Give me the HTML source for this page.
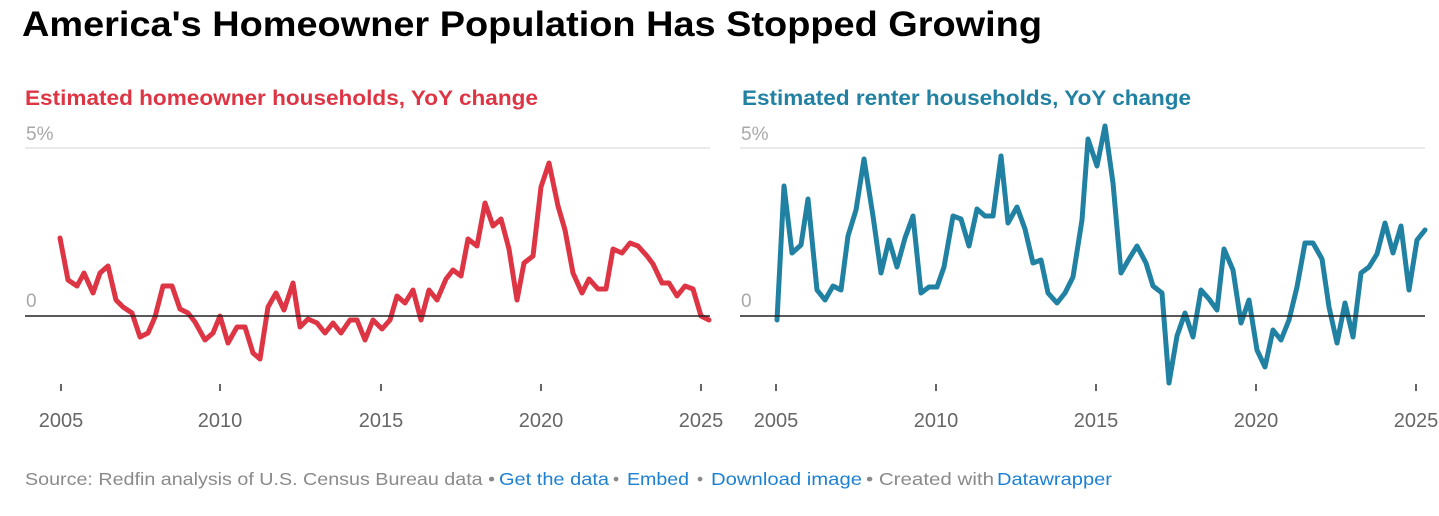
<!DOCTYPE html>
<html><head><meta charset="utf-8"><style>
html,body{margin:0;padding:0;background:#fff;}
svg{display:block;font-family:"Liberation Sans",sans-serif;}
</style></head><body>
<svg width="1439" height="516" viewBox="0 0 1439 516" xmlns="http://www.w3.org/2000/svg">
<text x="22" y="36" font-size="35" font-weight="bold" fill="#000" textLength="1020" lengthAdjust="spacingAndGlyphs">America's Homeowner Population Has Stopped Growing</text>
<text x="25" y="105" font-size="21" font-weight="bold" fill="#de3545" textLength="513" lengthAdjust="spacingAndGlyphs">Estimated homeowner households, YoY change</text>
<text x="742" y="105" font-size="21" font-weight="bold" fill="#2181a3" textLength="449" lengthAdjust="spacingAndGlyphs">Estimated renter households, YoY change</text>

<g font-size="19" fill="#a8a8a8">
<text x="26" y="140">5%</text><text x="26" y="307">0</text>
<text x="741" y="140">5%</text><text x="741" y="307">0</text>
</g>
<line x1="25" y1="148" x2="710" y2="148" stroke="#e2e2e2" stroke-width="1.5"/>
<line x1="740" y1="148" x2="1425" y2="148" stroke="#e2e2e2" stroke-width="1.5"/>

<g stroke="#333" stroke-width="1.5">
<line x1="61" y1="384" x2="61" y2="391"/><line x1="220" y1="384" x2="220" y2="391"/><line x1="381" y1="384" x2="381" y2="391"/><line x1="541" y1="384" x2="541" y2="391"/><line x1="701" y1="384" x2="701" y2="391"/>
<line x1="776" y1="384" x2="776" y2="391"/><line x1="936" y1="384" x2="936" y2="391"/><line x1="1096" y1="384" x2="1096" y2="391"/><line x1="1256" y1="384" x2="1256" y2="391"/><line x1="1416" y1="384" x2="1416" y2="391"/>
</g>
<g font-size="20" fill="#666" text-anchor="middle">
<text x="61" y="427">2005</text><text x="220" y="427">2010</text><text x="381" y="427">2015</text><text x="541" y="427">2020</text><text x="701" y="427">2025</text>
<text x="776" y="427">2005</text><text x="936" y="427">2010</text><text x="1096" y="427">2015</text><text x="1256" y="427">2020</text><text x="1416" y="427">2025</text>
</g>

<polyline fill="none" stroke="#de3545" stroke-width="5" stroke-linejoin="round" stroke-linecap="round" points="60,238 68,280 77,286 84,273 93,293 100,273 108,266 116,300 123,307 132,313 140,337 148,333 155,317 163,286 172,286 180,309 188,313 195,322 205,340 213,333 220,316 228,343 237,327 245,327 253,353 260,359 268,307 276,293 284,310 293,283 300,327 308,319 317,323 325,333 333,323 341,333 350,320 357,320 365,340 373,320 382,329 390,320 397,296 405,303 413,290 421,320 429,290 437,300 446,279 453,270 461,276 468,239 477,246 485,203 493,226 501,219 509,249 517,300 524,263 533,256 541,187 549,163 558,206 565,230 573,273 582,293 589,279 598,289 606,289 613,249 622,253 630,243 638,246 647,256 653,264 662,283 669,283 677,296 685,286 693,289 701,316 709,320"/>
<polyline fill="none" stroke="#2181a3" stroke-width="5" stroke-linejoin="round" stroke-linecap="round" points="777,320 784,186 792,253 801,245 808,199 817,290 825,300 833,286 841,290 848,236 856,210 864,159 873,216 881,273 889,240 897,267 905,238 913,216 921,293 929,287 937,287 944,267 953,216 961,219 969,246 977,209 985,216 993,216 1001,156 1008,223 1017,207 1025,229 1033,263 1041,260 1048,293 1057,303 1065,293 1073,277 1082,220 1088,139 1097,166 1105,126 1113,183 1121,273 1129,259 1137,246 1146,263 1153,286 1162,293 1169,383 1177,336 1185,313 1193,337 1201,290 1209,299 1217,310 1224,249 1233,270 1241,323 1249,300 1257,350 1265,367 1273,330 1281,340 1289,320 1297,287 1305,243 1313,243 1322,259 1329,307 1337,343 1345,303 1353,337 1361,273 1369,267 1377,254 1385,223 1393,253 1401,226 1409,290 1417,240 1425,230"/>
<line x1="25" y1="316" x2="710" y2="316" stroke="#222" stroke-width="1.5"/>
<line x1="740" y1="316" x2="1425" y2="316" stroke="#222" stroke-width="1.5"/>

<g font-size="17.5">
<text x="25" y="485" fill="#8a8a8a" textLength="470" lengthAdjust="spacingAndGlyphs">Source: Redfin analysis of U.S. Census Bureau data •</text>
<text x="499" y="485" fill="#1d81d3" textLength="110" lengthAdjust="spacingAndGlyphs">Get the data</text>
<text x="613" y="485" fill="#8a8a8a">•</text>
<text x="627" y="485" fill="#1d81d3" textLength="62" lengthAdjust="spacingAndGlyphs">Embed</text>
<text x="697" y="485" fill="#8a8a8a">•</text>
<text x="711" y="485" fill="#1d81d3" textLength="151" lengthAdjust="spacingAndGlyphs">Download image</text>
<text x="866" y="485" fill="#8a8a8a" textLength="128" lengthAdjust="spacingAndGlyphs">• Created with</text>
<text x="997" y="485" fill="#1d81d3" textLength="115" lengthAdjust="spacingAndGlyphs">Datawrapper</text>
</g>
</svg>
</body></html>
